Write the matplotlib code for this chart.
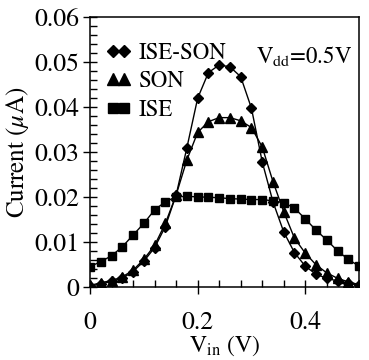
import numpy as np
import matplotlib
matplotlib.use('Agg')
import matplotlib.pyplot as plt
from matplotlib.ticker import MultipleLocator

plt.rcParams['font.family'] = ['STIXGeneral', 'Liberation Serif', 'DejaVu Serif']
plt.rcParams['mathtext.fontset'] = 'stix'

# Data
v_in = [0.00, 0.02, 0.04, 0.06, 0.08, 0.10, 0.12, 0.14, 0.16, 0.18, 0.20, 0.22, 0.24,
        0.26, 0.28, 0.30, 0.32, 0.34, 0.36, 0.38, 0.40, 0.42, 0.44, 0.46, 0.48, 0.50]
ise_son = [0.0003, 0.0007, 0.0013, 0.0020, 0.0035, 0.0058, 0.0088, 0.0135, 0.0205,
           0.0310, 0.0420, 0.0477, 0.0494, 0.0490, 0.0468, 0.0398, 0.0279, 0.0190,
           0.0123, 0.0077, 0.0047, 0.0029, 0.0020, 0.0014, 0.0009, 0.0004]
son = [0.0004, 0.0010, 0.0015, 0.0023, 0.0038, 0.0062, 0.0093, 0.0142, 0.0205,
       0.0283, 0.0344, 0.0368, 0.0377, 0.0377, 0.0370, 0.0355, 0.0312, 0.0235,
       0.0168, 0.0109, 0.0076, 0.0050, 0.0032, 0.0020, 0.0012, 0.0006]
ise = [0.0046, 0.0057, 0.0070, 0.0090, 0.0116, 0.0142, 0.0172, 0.0190, 0.0201,
       0.0202, 0.0201, 0.0200, 0.0199, 0.0197, 0.0196, 0.0195, 0.0195, 0.0192,
       0.0188, 0.0176, 0.0152, 0.0127, 0.0105, 0.0081, 0.0062, 0.0047]

fig = plt.figure(figsize=(3.69, 3.60), dpi=100)
ax = fig.add_axes([0.244, 0.202, 0.729, 0.750])

ax.plot(v_in, ise_son, '-', color='black', lw=1.0, marker='D', ms=4.8, label='ISE-SON')
ax.plot(v_in, son, '-', color='black', lw=1.0, marker='^', ms=6.8, label='SON')
ax.plot(v_in, ise, '-', color='black', lw=1.0, marker='s', ms=5.6, label='ISE')

ax.set_xlim(0, 0.5)
ax.set_ylim(0, 0.06)
ax.xaxis.set_minor_locator(MultipleLocator(0.04))
ax.yaxis.set_minor_locator(MultipleLocator(0.002))
ax.set_xticks([0, 0.2, 0.4])
ax.set_xticklabels(['0', '0.2', '0.4'])
ax.set_yticks([0, 0.01, 0.02, 0.03, 0.04, 0.05, 0.06])
ax.set_yticklabels(['0', '0.01', '0.02', '0.03', '0.04', '0.05', '0.06'])

ax.tick_params(axis='both', which='major', direction='inout', length=10, width=1.0,
               labelsize=18.5)
ax.tick_params(axis='both', which='minor', direction='in', length=5, width=1.0)
ax.tick_params(axis='x', which='major', pad=12)
ax.tick_params(axis='y', which='major', pad=3)
for s in ax.spines.values():
    s.set_linewidth(1.1)

ax.set_xlabel(r'V$_{\rm in}$ (V)', fontsize=17, labelpad=-1)
ax.set_ylabel(r'Current ($\mu$A)', fontsize=18, labelpad=2)

leg = ax.legend(loc='upper left', frameon=False, numpoints=2, handlelength=1.1,
                handletextpad=0.3, labelspacing=0.3, fontsize=16.5, markerscale=1.2,
                borderaxespad=0.3, bbox_to_anchor=(0.0, 0.965))
for h in leg.legend_handles:
    h.set_linestyle('none')

ax.text(0.975, 0.855, r'V$_{\rm dd}$=0.5V', transform=ax.transAxes, ha='right',
        va='center', fontsize=16.5)

fig.savefig('out.png', dpi=100)
